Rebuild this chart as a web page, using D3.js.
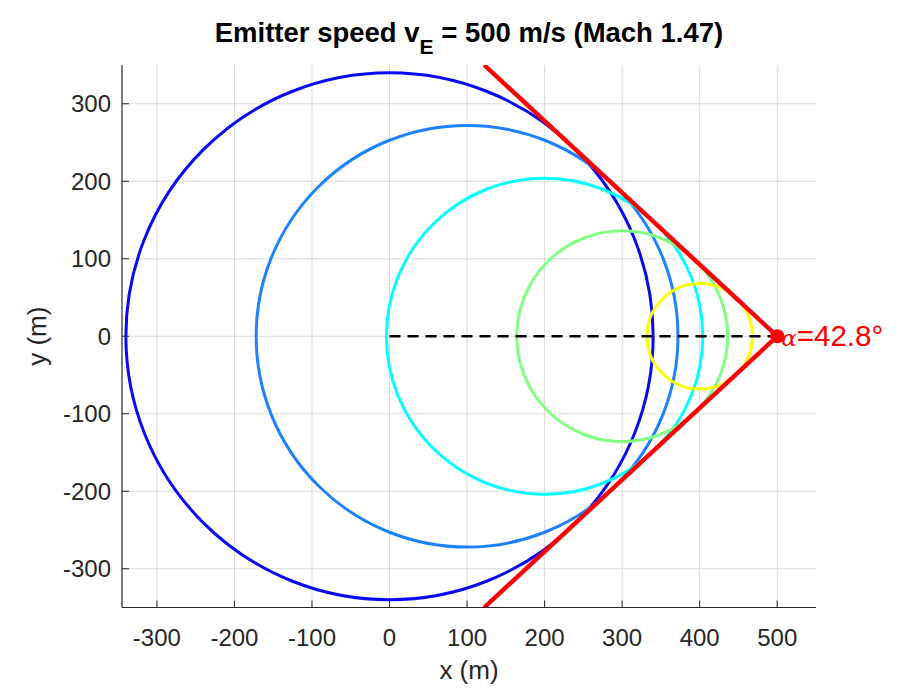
<!DOCTYPE html>
<html><head><meta charset="utf-8">
<script src="https://cdn.jsdelivr.net/npm/d3@7"></script>
<style>body{margin:0;background:#fff;} text{font-family:"Liberation Sans",Arial,sans-serif;}</style>
</head><body><svg id="c" width="909" height="688"></svg>
<script>
const centersX = [0, 100, 200, 300, 400];
const radii = [340, 272, 204, 136, 68];
const circleColors = ["#0a0af0", "#1e82ff", "#00ffff", "#80ff80", "#ffff00"];
const emitterX = 500;
const machAngleDeg = 42.8;
const xTicks = [-300, -200, -100, 0, 100, 200, 300, 400, 500];
const yTicks = [-300, -200, -100, 0, 100, 200, 300];
const xDomain = [-345, 550];
const yDomain = [-350, 350];

const svg = d3.select("#c");
const L = 122, R = 816, T = 65, B = 607.5;
const x = d3.scaleLinear().domain(xDomain).range([L, R]);
const y = d3.scaleLinear().domain(yDomain).range([B, T]);

const defs = svg.append("defs");
defs.append("clipPath").attr("id","clip").append("rect")
  .attr("x",L).attr("y",T).attr("width",R-L).attr("height",B-T);

// grid
const g = svg.append("g");
g.selectAll(".gx").data(xTicks).enter().append("line")
  .attr("x1",d=>x(d)).attr("x2",d=>x(d)).attr("y1",T).attr("y2",B)
  .attr("stroke","#dcdcdc").attr("stroke-width",1);
g.selectAll(".gy").data(yTicks).enter().append("line")
  .attr("y1",d=>y(d)).attr("y2",d=>y(d)).attr("x1",L).attr("x2",R)
  .attr("stroke","#dcdcdc").attr("stroke-width",1);

const plot = svg.append("g").attr("clip-path","url(#clip)");
const kx = (R-L)/(xDomain[1]-xDomain[0]);
const ky = (B-T)/(yDomain[1]-yDomain[0]);
plot.selectAll("ellipse").data(centersX).enter().append("ellipse")
  .attr("cx",d=>x(d)).attr("cy",y(0))
  .attr("rx",(d,i)=>radii[i]*kx).attr("ry",(d,i)=>radii[i]*ky)
  .attr("fill","none").attr("stroke",(d,i)=>circleColors[i]).attr("stroke-width",3);

// dashed path line
plot.append("line").attr("x1",x(0)).attr("x2",x(emitterX)).attr("y1",y(0)).attr("y2",y(0))
  .attr("stroke","#000").attr("stroke-width",2.3).attr("stroke-dasharray","11,7");

// Mach cone lines
const tanA = Math.tan(machAngleDeg*Math.PI/180);
const yEnd = yDomain[1];
const xEnd = emitterX - yEnd / tanA;
[1,-1].forEach(s=>{
  plot.append("line").attr("x1",x(emitterX)).attr("y1",y(0))
    .attr("x2",x(xEnd)).attr("y2",y(s*yEnd))
    .attr("stroke","#ff0000").attr("stroke-width",4.4);
});
svg.append("circle").attr("cx",x(emitterX)).attr("cy",y(0)).attr("r",7).attr("fill","#ff0000");

const lab = svg.append("text").attr("x",x(emitterX)+4).attr("y",y(0)+10)
  .attr("fill","#ff0000").attr("font-size",29.5);
lab.append("tspan").attr("font-family","DejaVu Serif, serif").attr("font-style","italic").attr("font-size",23).text("α");
lab.append("tspan").text("=" + machAngleDeg.toFixed(1) + "°");

// axes
const ax = svg.append("g");
ax.append("line").attr("x1",L).attr("x2",R).attr("y1",B).attr("y2",B).attr("stroke","#262626").attr("stroke-width",1.2);
ax.append("line").attr("x1",L).attr("x2",L).attr("y1",T).attr("y2",B).attr("stroke","#262626").attr("stroke-width",1.2);
ax.selectAll(".tx").data(xTicks).enter().append("line")
  .attr("x1",d=>x(d)).attr("x2",d=>x(d)).attr("y1",B).attr("y2",B-7).attr("stroke","#262626");
ax.selectAll(".ty").data(yTicks).enter().append("line")
  .attr("y1",d=>y(d)).attr("y2",d=>y(d)).attr("x1",L).attr("x2",L+7).attr("stroke","#262626");
ax.selectAll(".lx").data(xTicks).enter().append("text")
  .attr("x",d=>x(d)).attr("y",B+38).attr("text-anchor","middle")
  .attr("font-size",24).attr("fill","#262626").text(d=>d);
ax.selectAll(".ly").data(yTicks).enter().append("text")
  .attr("x",L-11).attr("y",d=>y(d)+8.5).attr("text-anchor","end")
  .attr("font-size",24).attr("fill","#262626").text(d=>d);

svg.append("text").attr("x",(L+R)/2).attr("y",679).attr("text-anchor","middle")
  .attr("font-size",26).attr("fill","#262626").text("x (m)");
svg.append("text").attr("transform",`translate(46,${(T+B)/2}) rotate(-90)`)
  .attr("text-anchor","middle").attr("font-size",26).attr("fill","#262626").text("y (m)");

const title = svg.append("text").attr("x",(L+R)/2).attr("y",42).attr("text-anchor","middle")
  .attr("font-size",27.5).attr("font-weight","bold").attr("fill","#000");
title.append("tspan").text("Emitter speed v");
title.append("tspan").attr("dy",12).attr("font-size",21).text("E");
title.append("tspan").attr("dy",-12).text(" = 500 m/s (Mach 1.47)");
</script></body></html>
